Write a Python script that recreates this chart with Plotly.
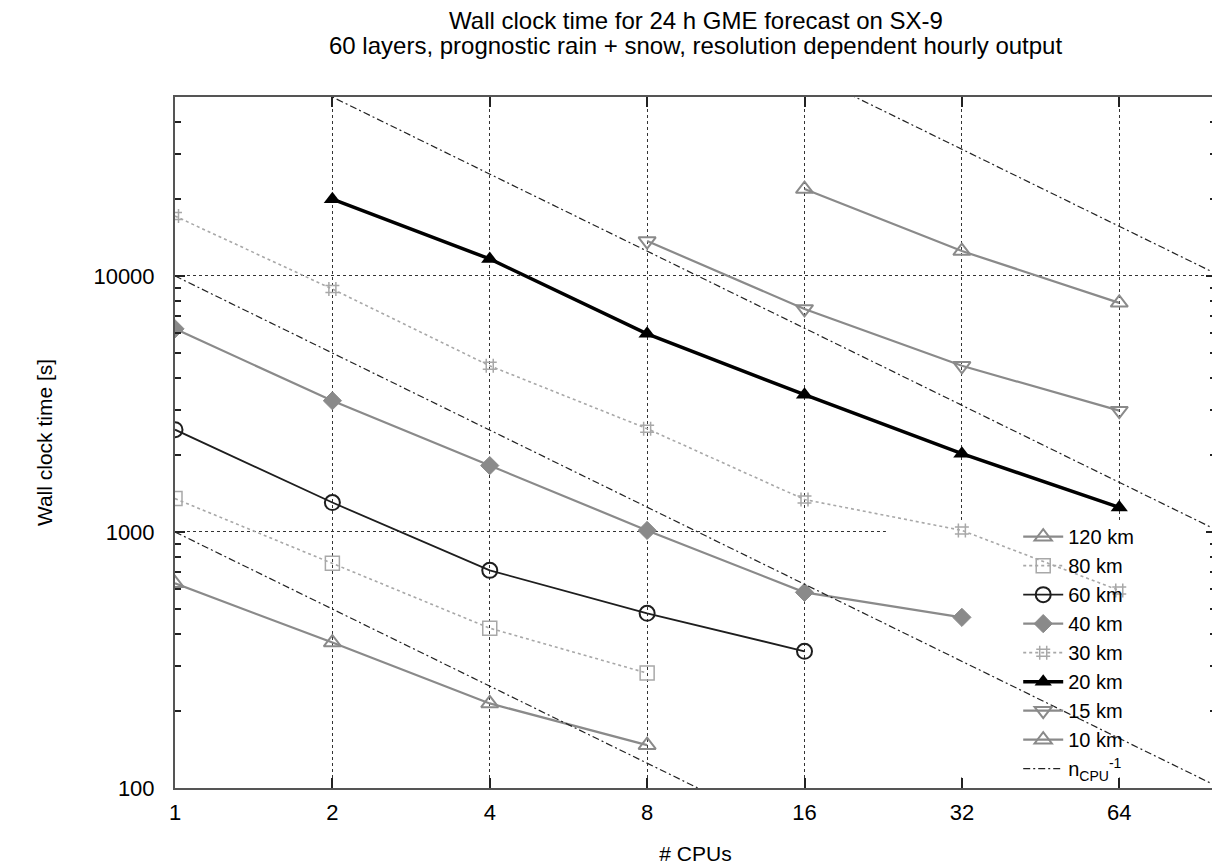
import plotly.graph_objects as go
import math

# ---------------- data ----------------
cpus_120 = [1, 2, 4, 8]
time_120 = [630, 370, 214, 147]

cpus_80 = [1, 2, 4, 8]
time_80 = [1350, 754, 421, 281]

cpus_60 = [1, 2, 4, 8, 16]
time_60 = [2510, 1303, 708, 481, 342]

cpus_40 = [1, 2, 4, 8, 16, 32]
time_40 = [6215, 3256, 1817, 1014, 581, 464]

cpus_30 = [1, 2, 4, 8, 16, 32, 64]
time_30 = [17140, 8890, 4457, 2532, 1339, 1014, 591]

cpus_20 = [2, 4, 8, 16, 32, 64]
time_20 = [19950, 11650, 5940, 3436, 2023, 1247]

cpus_15 = [8, 16, 32, 64]
time_15 = [13690, 7435, 4458, 2977]

cpus_10 = [16, 32, 64]
time_10 = [21840, 12510, 7850]

# ideal-scaling reference lines  t = c / n_CPU
ref_consts = [1e3, 1e4, 1e5, 1e6]
x_min, x_max = 1, 98
y_min, y_max = 100, 50000

x_ticks = [1, 2, 4, 8, 16, 32, 64]
x_tick_text = ["1", "2", "4", "8", "16", "32", "64"]
y_ticks = [100, 1000, 10000]
y_tick_text = ["100", "1000", "10000"]

title_line1 = "Wall clock time for 24 h GME forecast on SX-9"
title_line2 = "60 layers, prognostic rain + snow, resolution dependent hourly output"

FONT = "Liberation Sans, Arial, Helvetica, sans-serif"
GRAY = "#8a8a8a"
LIGHT = "#a8a8a8"

series = [
    ("120 km", cpus_120, time_120, dict(color=GRAY, width=2.2), dict(symbol="triangle-up-open", size=15, color=GRAY, line=dict(width=2, color=GRAY))),
    ("80 km", cpus_80, time_80, dict(color=LIGHT, width=1.6, dash="dot"), dict(symbol="square-open", size=14, color=LIGHT, line=dict(width=1.5, color=LIGHT))),
    ("60 km", cpus_60, time_60, dict(color="#1e1e1e", width=1.8), dict(symbol="circle-open", size=15, color="#1e1e1e", line=dict(width=2, color="#1e1e1e"))),
    ("40 km", cpus_40, time_40, dict(color=GRAY, width=2.2), dict(symbol="diamond", size=14, color=GRAY, line=dict(width=1, color=GRAY))),
    ("30 km", cpus_30, time_30, dict(color=LIGHT, width=1.6, dash="dot"), dict(symbol="hash-open", size=14, color=LIGHT, line=dict(width=1.5, color=LIGHT))),
    ("20 km", cpus_20, time_20, dict(color="black", width=3.5), dict(symbol="triangle-up", size=15, color="black")),
    ("15 km", cpus_15, time_15, dict(color=GRAY, width=2.2), dict(symbol="triangle-down-open", size=15, color=GRAY, line=dict(width=2, color=GRAY))),
    ("10 km", cpus_10, time_10, dict(color=GRAY, width=2.2), dict(symbol="triangle-up-open", size=15, color=GRAY, line=dict(width=2, color=GRAY))),
]

fig = go.Figure()
for name, xs, ys, ln, mk in series:
    fig.add_trace(go.Scatter(x=xs, y=ys, name=name, mode="lines+markers",
                             line=ln, marker=mk, cliponaxis=True))

# reference lines c/n, one legend entry
ref_x, ref_y = [], []
for c in ref_consts:
    ref_x += [x_min, x_max, None]
    ref_y += [c / x_min, c / x_max, None]
fig.add_trace(go.Scatter(x=ref_x, y=ref_y, mode="lines",
                         name="n<sub>CPU</sub><sup>-1</sup>",
                         line=dict(color="#222222", width=1.2, dash="7px,3px,2px,3px")))

# the page body has an 8px margin; figure sized so the plot area lands where the reference has it
fig.update_layout(
    width=1212, height=860, autosize=False,
    margin=dict(l=167, r=2, t=89, b=80),
    paper_bgcolor="white", plot_bgcolor="white",
    font=dict(family=FONT, size=22, color="black"),
    title=dict(text=title_line1, font=dict(family=FONT, size=24, color="black"),
               x=688 / 1212, xanchor="center", xref="container",
               y=1 - 13 / 860, yanchor="middle", yref="container"),
    annotations=[dict(text=title_line2, xref="paper", yref="paper",
                      x=0.5, y=(780 - 38) / 691, xanchor="center", yanchor="middle",
                      showarrow=False, font=dict(family=FONT, size=24, color="black"))],
    showlegend=True,
    legend=dict(x=0.81, xanchor="left", y=0.392, yanchor="top",
                bgcolor="rgba(0,0,0,0)", font=dict(family=FONT, size=20),
                tracegroupgap=0, itemwidth=40),
    # key area blanks the grid (drawn above gridlines, below the data)
    shapes=[dict(type="rect", xref="x", yref="y", x0=22.9, x1=x_max,
                 y0=110, y1=1110, fillcolor="white", line=dict(width=0),
                 layer="between")],
)

fig.update_xaxes(
    type="log", range=[math.log10(x_min), math.log10(x_max)],
    tickmode="array", tickvals=x_ticks, ticktext=x_tick_text,
    ticks="inside", ticklen=10, tickwidth=1.5, tickcolor="#222",
    showline=True, linecolor="#555", linewidth=2, mirror="ticks",
    showgrid=True, gridcolor="#333", gridwidth=1, griddash="dot",
    zeroline=False, ticklabelstandoff=4,
    title=dict(text="# CPUs", font=dict(family=FONT, size=21), standoff=22),
    tickfont=dict(family=FONT, size=22),
)
fig.update_yaxes(
    type="log", range=[math.log10(y_min), math.log10(y_max)],
    tickmode="array", tickvals=y_ticks, ticktext=y_tick_text,
    ticks="inside", ticklen=10, tickwidth=1.5, tickcolor="#222",
    minor=dict(ticks="inside", ticklen=6, tickcolor="#222", showgrid=False, dtick="D1"),
    showline=True, linecolor="#555", linewidth=2, mirror="ticks",
    showgrid=True, gridcolor="#333", gridwidth=1, griddash="dot",
    zeroline=False, ticklabelstandoff=14,
    title=dict(text="Wall clock time [s]", font=dict(family=FONT, size=21), standoff=35),
    tickfont=dict(family=FONT, size=22),
)

fig.write_html("out.html")
